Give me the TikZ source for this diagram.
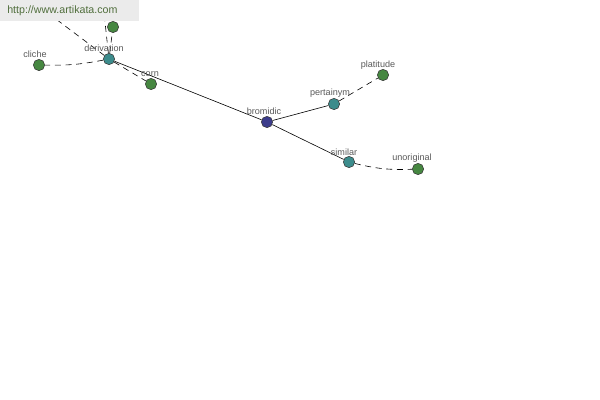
\documentclass[tikz,border=0pt]{standalone}
\usepackage{fontspec}
\setmainfont{Liberation Sans}
\definecolor{wmtext}{RGB}{80,110,60}
\definecolor{leafc}{RGB}{70,135,65}
\definecolor{midc}{RGB}{60,140,140}
\definecolor{rootc}{RGB}{60,60,140}
\begin{document}
\begin{tikzpicture}[x=0.75pt,y=-0.75pt,
  vtx/.style={circle,draw=black!80,line width=0.4pt,minimum size=8.5pt,inner sep=0pt},
  leaf/.style={vtx,fill=leafc},
  mid/.style={vtx,fill=midc},
  root/.style={vtx,fill=rootc},
  lbl/.style={font=\fontsize{6.8pt}{7pt}\selectfont,text=black!65,inner sep=0pt},
  rel/.style={line width=0.45pt,black},
  syn/.style={line width=0.45pt,black,dash pattern=on 4.5pt off 3.5pt}]
\useasboundingbox (0,0) rectangle (600,400);
\begin{scope}
\clip (0,0) rectangle (600,400);
\coordinate (offa) at (20,-8);
\coordinate (offb) at (101,-15);
\node[mid] (derivation) at (109,59) {};
\node[leaf] (top) at (113,27) {};
\node[leaf] (cliche) at (39,65) {};
\node[leaf] (corn) at (151,84) {};
\node[root] (bromidic) at (267,122) {};
\node[mid] (pertainym) at (334,104) {};
\node[leaf] (platitude) at (383,75) {};
\node[mid] (similar) at (349,162) {};
\node[leaf] (unoriginal) at (418,169) {};
\draw[syn] (derivation) -- (offa);
\draw[syn] (derivation) -- (offb);
\draw[syn] (derivation) -- (top);
\draw[syn] (derivation) to[bend left=6] (cliche);
\draw[syn] (derivation) -- (corn);
\draw[rel] (derivation) -- (bromidic);
\draw[rel] (bromidic) -- (pertainym);
\draw[rel] (bromidic) -- (similar);
\draw[syn] (pertainym) -- (platitude);
\draw[syn] (similar) to[bend right=8] (unoriginal);
\end{scope}
\node[lbl] (lderivation) at (104,48) {derivation};
\node[lbl] (lcliche) at (35,54) {cliche};
\node[lbl] (lcorn) at (150,74) {corn};
\node[lbl] (lbromidic) at (264,111) {bromidic};
\node[lbl] (lpertainym) at (330,93) {pertainym};
\node[lbl] (lplatitude) at (378,65) {platitude};
\node[lbl] (lsimilar) at (344,152) {similar};
\node[lbl] (lunoriginal) at (412,158) {unoriginal};
\fill[black!8] (0,0) rectangle (139,21);
\node[font=\fontsize{8pt}{8pt}\selectfont,text=wmtext,inner sep=0pt,anchor=west] (wm) at (7,11) {http://www.artikata.com};
\end{tikzpicture}
\end{document}
